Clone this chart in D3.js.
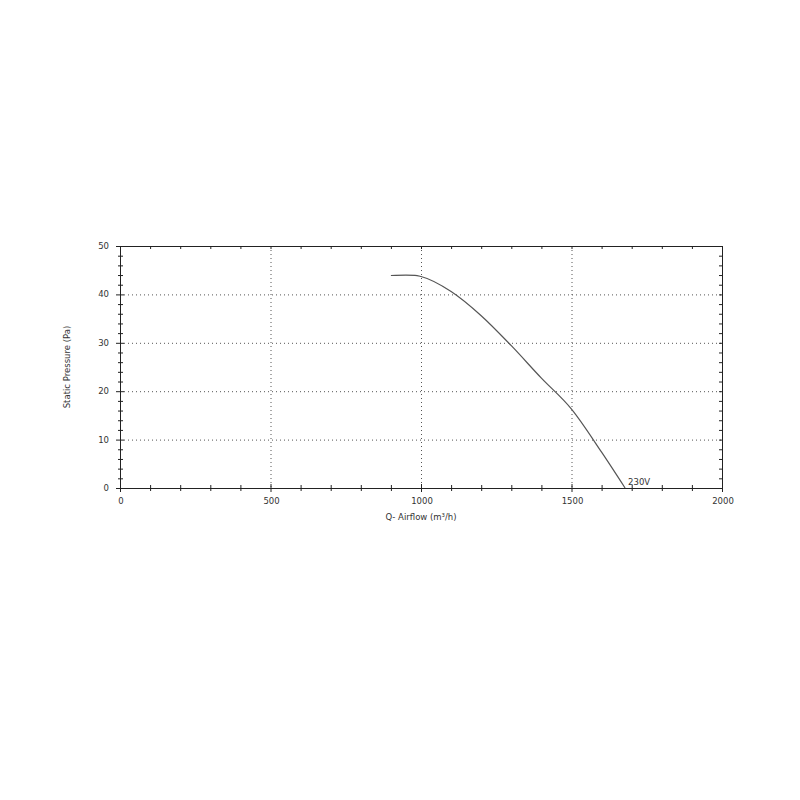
<!DOCTYPE html>
<html><head><meta charset="utf-8">
<script src="https://cdn.jsdelivr.net/npm/d3@7"></script>
<style>body{margin:0;background:#fff;} svg{display:block;} text{font-family:"DejaVu Sans",Verdana,sans-serif;}</style>
</head><body><svg id="c" width="800" height="800"></svg>
<script>
const airflow = [900, 950, 980, 1000, 1100, 1200, 1300, 1400, 1500, 1600, 1678];
const pressure = [43.9, 44.0, 43.95, 43.7, 40.6, 35.6, 29.4, 22.7, 16.3, 7.4, 0];
const xTicks = [0, 500, 1000, 1500, 2000];
const yTicks = [0, 10, 20, 30, 40, 50];
const seriesLabel = "230V";
const xTitle = "Q- Airflow (m³/h)";
const yTitle = "Static Pressure (Pa)";

const svg = d3.select("#c");
const L = 120, R = 722, T = 246, B = 488;
const x = d3.scaleLinear().domain([0, 2000]).range([L, R]);
const y = d3.scaleLinear().domain([0, 50]).range([B, T]);
const ink = "#333";

// grid
const g = svg.append("g");
g.selectAll(".gy").data(yTicks.filter(d => d > 0 && d < 50)).join("line")
  .attr("x1", L).attr("x2", R).attr("y1", d => y(d) + 0.5).attr("y2", d => y(d) + 0.5)
  .attr("stroke", "#555").attr("stroke-dasharray", "1,3").attr("stroke-width", 1);
g.selectAll(".gx").data(xTicks.filter(d => d > 0 && d < 2000)).join("line")
  .attr("y1", T).attr("y2", B).attr("x1", d => x(d) + 0.5).attr("x2", d => x(d) + 0.5)
  .attr("stroke", "#555").attr("stroke-dasharray", "1,3").attr("stroke-width", 1);

// frame
svg.append("rect").attr("x", L + 0.5).attr("y", T + 0.5).attr("width", R - L).attr("height", B - T)
  .attr("fill", "none").attr("stroke", "#222").attr("stroke-width", 1);

// minor ticks
const xMinor = d3.range(0, 2001, 100);
const yMinor = d3.range(0, 51, 2);
svg.append("g").selectAll("line").data(xMinor).join("line")
  .attr("x1", d => x(d) + 0.5).attr("x2", d => x(d) + 0.5)
  .attr("y1", d => B - (d % 500 === 0 ? 4 : 3)).attr("y2", d => B + (d % 500 === 0 ? 4 : 3))
  .attr("stroke", "#222");
svg.append("g").selectAll("line").data(xMinor.filter(d => d > 0 && d < 2000)).join("line")
  .attr("x1", d => x(d) + 0.5).attr("x2", d => x(d) + 0.5)
  .attr("y1", T).attr("y2", T + 3).attr("stroke", "#222");
svg.append("g").selectAll("line").data(yMinor).join("line")
  .attr("y1", d => y(d) + 0.5).attr("y2", d => y(d) + 0.5)
  .attr("x1", d => L - (d % 10 === 0 ? 4 : 2)).attr("x2", d => L + (d % 10 === 0 ? 4 : 3))
  .attr("stroke", "#222");
svg.append("g").selectAll("line").data(yMinor.filter(d => d > 0 && d < 50)).join("line")
  .attr("y1", d => y(d) + 0.5).attr("y2", d => y(d) + 0.5)
  .attr("x1", R - 3).attr("x2", R).attr("stroke", "#222");

// tick labels
svg.append("g").selectAll("text").data(xTicks).join("text")
  .attr("x", d => x(d) + 1).attr("y", B + 16).attr("text-anchor", "middle")
  .attr("font-size", 8.5).attr("fill", ink).text(d => d);
svg.append("g").selectAll("text").data(yTicks).join("text")
  .attr("x", L - 11).attr("y", d => y(d) + 3).attr("text-anchor", "end")
  .attr("font-size", 8.5).attr("fill", ink).text(d => d);

// titles
svg.append("text").attr("x", (L + R) / 2).attr("y", 520).attr("text-anchor", "middle")
  .attr("font-size", 8.5).attr("fill", ink).text(xTitle);
svg.append("text").attr("transform", `translate(70,${(T + B) / 2}) rotate(-90)`)
  .attr("text-anchor", "middle").attr("font-size", 8.5).attr("fill", ink).text(yTitle);

// curve
const pts = airflow.map((a, i) => [a, pressure[i]]);
svg.append("path").datum(pts)
  .attr("d", d3.line().x(d => x(d[0])).y(d => y(d[1])).curve(d3.curveMonotoneX))
  .attr("fill", "none").attr("stroke", "#555").attr("stroke-width", 1.2);

svg.append("text").attr("x", x(airflow[airflow.length - 1]) + 3).attr("y", y(0) - 3)
  .attr("font-size", 8.5).attr("fill", ink).text(seriesLabel);
</script></body></html>
